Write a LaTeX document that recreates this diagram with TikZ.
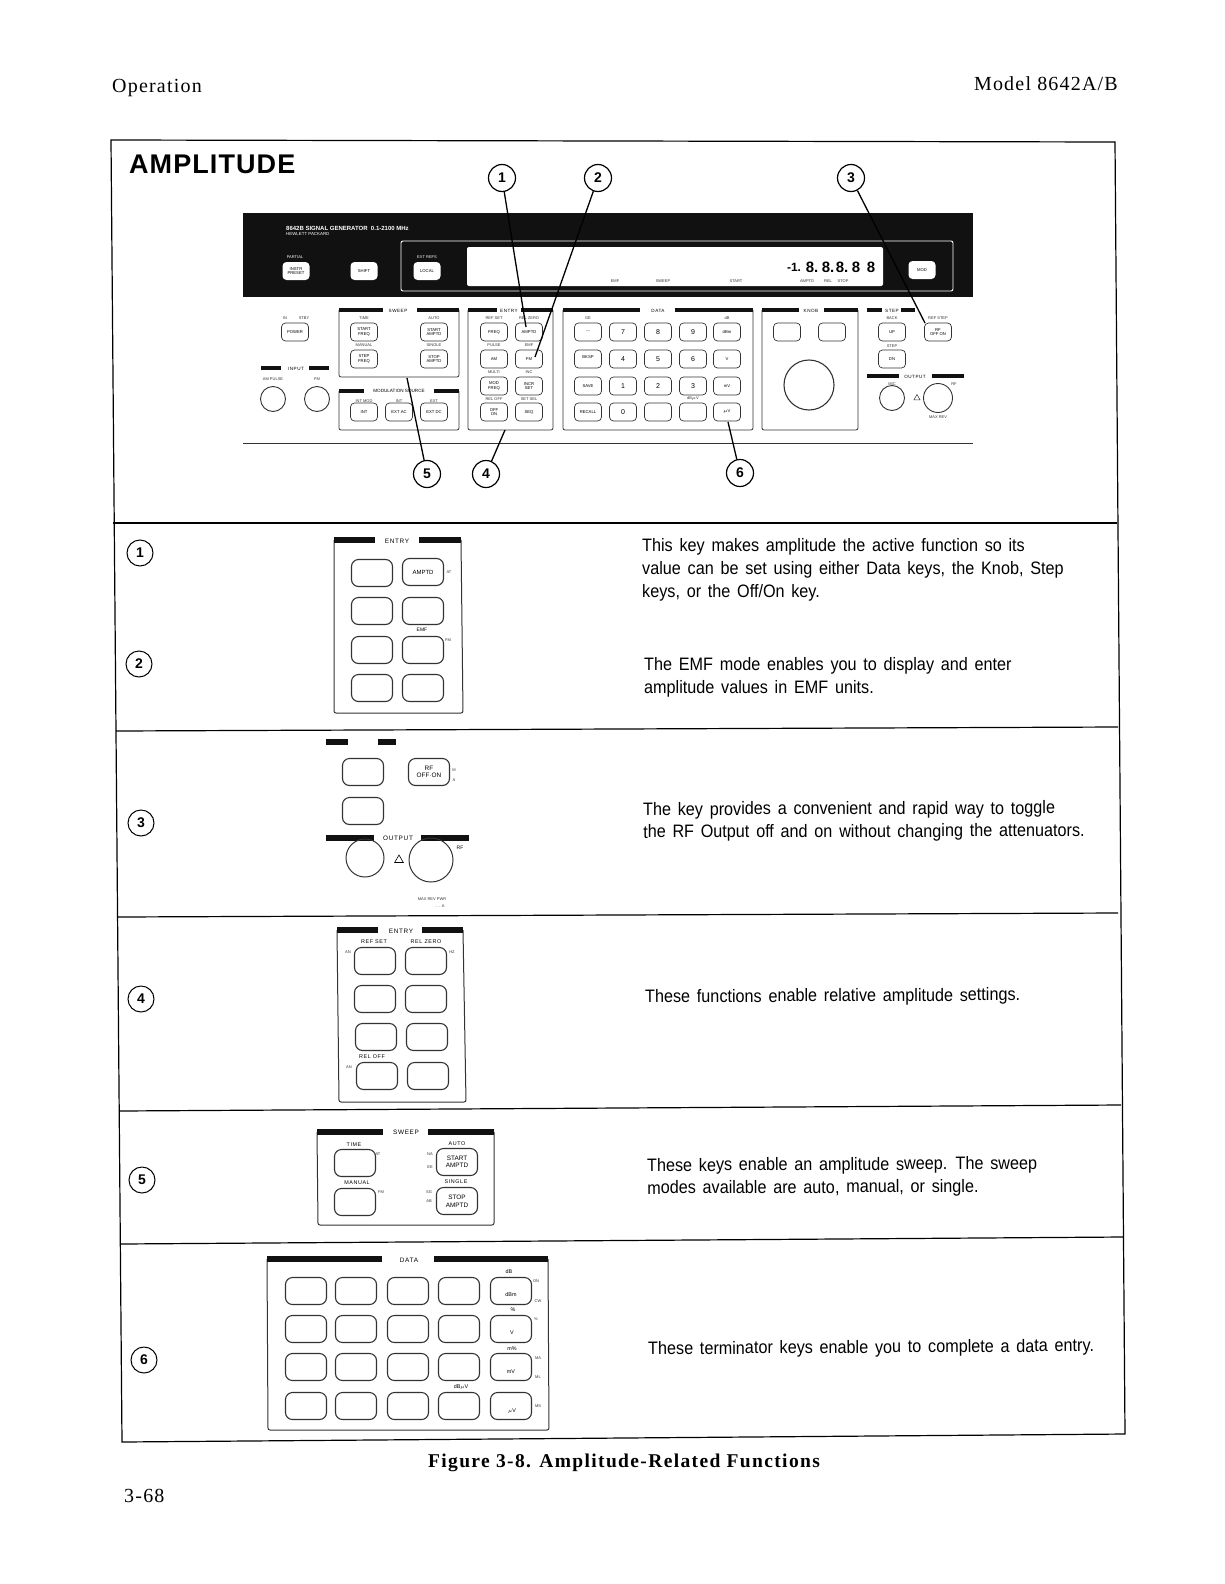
\documentclass[tikz,border=0pt]{standalone}
\usepackage{fontspec}
\usetikzlibrary{shapes.geometric}
\newfontfamily\bodyfont{Liberation Sans}[FakeStretch=0.9,WordSpace=1.5]
\newfontfamily\headfont{Liberation Serif}[LetterSpace=6]
\newfontfamily\captionfont{Liberation Serif}[LetterSpace=7]
\newfontfamily\titlefont{Liberation Sans}[LetterSpace=4]
\newfontfamily\tabfont{Liberation Sans}[LetterSpace=11]
\newfontfamily\panelfont{Liberation Sans}
\definecolor{panelblack}{HTML}{111111}
\definecolor{printgray}{HTML}{333333}
\tikzset{
  panelline/.style={draw=printgray,line width=0.8pt,rounded corners=2pt},
  tabbar/.style={draw=panelblack,line width=4pt},
  bigtab/.style={draw=panelblack,line width=5.5pt},
  padkey/.style={draw=printgray,line width=1.1pt,rounded corners=7pt,minimum width=41pt,minimum height=27pt,inner sep=0pt,align=center,font=\panelfont\fontsize{6}{7}\selectfont},
  frontkey/.style={draw=printgray,line width=0.7pt,rounded corners=4pt,minimum width=27pt,minimum height=18pt,inner sep=0pt,align=center,font=\panelfont\fontsize{4.2}{4.6}\selectfont,fill=white},
  whitekey/.style={frontkey,draw=none,text=black,fill=white},
  calloutnum/.style={draw=black,fill=white,circle,line width=1.2pt,minimum size=27pt,inner sep=0pt,font=\panelfont\bfseries\fontsize{14}{14}\selectfont},
  rownum/.style={calloutnum,line width=1pt,minimum size=26pt},
  calloutline/.style={draw=black,line width=1.3pt},
  minitext/.style={inner sep=0pt,text=printgray,font=\panelfont\fontsize{4}{4.5}\selectfont},
  tabtext/.style={inner sep=0pt,font=\tabfont\fontsize{6.4}{7}\selectfont},
  fronttab/.style={inner sep=0pt,font=\tabfont\fontsize{4.6}{5}\selectfont},
  keyhead/.style={inner sep=0pt,font=\tabfont\fontsize{5.4}{6}\selectfont},
  dialring/.style={draw=printgray,circle,line width=0.9pt,inner sep=0pt},
  bodytext/.style={inner sep=0pt,anchor=west,align=left,font=\bodyfont\fontsize{18}{22.7}\selectfont},
}
\begin{document}
\begin{tikzpicture}[x=1pt,y=-1pt]
\useasboundingbox (0,0) rectangle (1224,1584);
\node[anchor=west,inner sep=0pt,font=\headfont\fontsize{20}{22}\selectfont] (pagesection) at (112,88) {Operation};
\node[anchor=east,inner sep=0pt,font=\headfont\fontsize{20}{22}\selectfont] (pagemodel) at (1118,84) {Model 8642A/B};
\node[anchor=west,inner sep=0pt,font=\headfont\fontsize{20}{22}\selectfont] (pagenum) at (124,1496) {3-68};
\node[inner sep=0pt,font=\captionfont\bfseries\fontsize{19.5}{22}\selectfont] (figcaption) at (624,1463) {Figure 3-8. Amplitude-Related Functions};
\draw[black,line width=1.2pt] (111,140)--(1115,142)--(1125,1434)--(122,1442)--cycle;
\draw[black,line width=1.2pt] (113,523)--(1117,523);
\draw[black,line width=1.2pt] (116,731)--(1118,727);
\draw[black,line width=1.2pt] (118,917)--(1118,913);
\draw[black,line width=1.2pt] (119,1111)--(1121,1105);
\draw[black,line width=1.2pt] (121,1244)--(1123,1237);
\node[anchor=west,inner sep=0pt,font=\titlefont\bfseries\fontsize{27}{28}\selectfont] (amptitle) at (129,164) {AMPLITUDE};

\fill[panelblack] (243,213) rectangle (973,297);
\draw[panelline,draw=white,line width=0.9pt] (401,241) rectangle (953,291);
\fill[white,rounded corners=2pt] (467,247) rectangle (883,286);
\draw[printgray,line width=1pt] (243,443)--(973,443);
\node[anchor=west,inner sep=0pt,text=white,font=\panelfont\bfseries\fontsize{6}{7}\selectfont] (gentitle) at (286,228) {8642B SIGNAL GENERATOR\ \ 0.1-2100 MHz};
\node[anchor=west,inner sep=0pt,text=white,font=\panelfont\fontsize{4.4}{5}\selectfont] (genmaker) at (286,234) {HEWLETT PACKARD};
\node[inner sep=0pt,text=white,font=\panelfont\fontsize{4}{5}\selectfont] (partiallabel) at (295,257) {PARTIAL};
\node[inner sep=0pt,text=white,font=\panelfont\fontsize{4}{5}\selectfont] (extlabel) at (427,257) {EXT REFS};
\node[whitekey] (presetkey) at (296,271) {INSTR\\PRESET};
\node[whitekey] (shiftkey) at (364,271) {SHIFT};
\node[whitekey] (localkey) at (427,271) {LOCAL};
\node[whitekey] (modkey) at (922,270) {MOD};
\foreach \dx/\dtext [count=\i] in {812/8.,828/8.,842/8.,856/8,871/8}
  \node[inner sep=0pt,font=\panelfont\bfseries\fontsize{15}{15}\selectfont] (digit\i) at (\dx,267) {\dtext};
\node[inner sep=0pt,font=\panelfont\bfseries\fontsize{12}{12}\selectfont] (signdigit) at (794,267) {-1.};
\foreach \lx/\ltext [count=\i] in {615/EMF,663/SWEEP,736/START,807/AMPTD,828/REL,843/STOP}
  \node[minitext] (displaylabel\i) at (\lx,281) {\ltext};

\draw[panelline] (339,310)--(339,377)--(459,377)--(459,310);
\draw[tabbar] (339,310)--(383,310);
\draw[tabbar] (417,310)--(459,310);
\node[fronttab] (sweeptab) at (398,311) {SWEEP};
\draw[panelline] (339,391)--(339,430)--(459,430)--(459,391);
\draw[tabbar] (339,391)--(364,391);
\draw[tabbar] (434,391)--(459,391);
\node[fronttab,font=\panelfont\fontsize{4.6}{5}\selectfont] (modtab) at (399,391) {MODULATION SOURCE};
\draw[panelline] (468,310)--(468,430)--(553,430)--(553,310);
\draw[tabbar] (468,310)--(497,310);
\draw[tabbar] (521,310)--(553,310);
\node[fronttab] (entrytab) at (509,311) {ENTRY};
\draw[panelline] (563,310)--(563,430)--(753,430)--(753,310);
\draw[tabbar] (563,310)--(640,310);
\draw[tabbar] (675,310)--(753,310);
\node[fronttab] (datatab) at (658,311) {DATA};
\draw[panelline] (762,310)--(762,430)--(858,430)--(858,310);
\draw[tabbar] (762,310)--(799,310);
\draw[tabbar] (824,310)--(858,310);
\node[fronttab] (knobtab) at (811,311) {KNOB};
\draw[tabbar] (867,310)--(882,310);
\draw[tabbar] (901,310)--(915,310);
\node[fronttab] (steptab) at (892,311) {STEP};
\draw[tabbar] (867,376)--(899,376);
\draw[tabbar] (932,376)--(964,376);
\node[fronttab] (outputtab) at (915,377) {OUTPUT};
\draw[tabbar] (261,368)--(281,368);
\draw[tabbar] (309,368)--(329,368);
\node[fronttab] (inputtab) at (296,369) {INPUT};

\node[frontkey] (powerkey) at (295,332) {POWER};
\foreach \kx/\ky/\ktext [count=\i] in {364/332/{START\\FREQ},434/332/{START\\AMPTD},364/359/{STEP\\FREQ},434/359/{STOP\\AMPTD},364/412/INT,399/412/EXT AC,434/412/EXT DC,494/332/FREQ,494/359/AM,494/386/{MOD\\FREQ},494/412/{OFF\\ON},529/359/FM,529/386/{INCR\\SET},529/412/SEQ,588/332/---,588/359/{BKSP\\},588/386/SAVE,588/412/RECALL,787/332/,832/332/,892/332/UP,892/359/DN,938/332/{RF\\OFF ON}}
  \node[frontkey] (panelkey\i) at (\kx,\ky) {\ktext};
\node[frontkey] (amptdkey) at (529,332) {AMPTD};
\foreach \kx/\ky/\ktext [count=\i] in {623/332/7,658/332/8,693/332/9,623/359/4,658/359/5,693/359/6,623/386/1,658/386/2,693/386/3,623/412/0,658/412/,693/412/}
  \node[frontkey,font=\panelfont\fontsize{7}{8}\selectfont] (digitkey\i) at (\kx,\ky) {\ktext};
\foreach \ky/\ktext [count=\i] in {332/dBm,359/V,386/mV,412/$\mu$V}
  \node[frontkey] (unitkey\i) at (727,\ky) {\ktext};
\foreach \lx/\ly/\ltext [count=\i] in {364/318/TIME,434/318/AUTO,364/345/MANUAL,434/345/SINGLE,364/401/INT MOD,399/401/INT,434/401/EXT,494/318/REF SET,529/318/REL ZERO,494/345/PULSE,529/345/EMF,494/372/MULTI,529/372/INC,494/399/REL OFF,529/399/SET SEL,285/318/IN,304/318/STBY,273/379/AM PULSE,317/379/FM,588/318/GE,727/318/dB,693/399/dB$\mu$V,892/318/BACK,892/346/STEP,938/318/REF STEP,892/384/MIC,954/384/RF,938/417/MAX REV}
  \node[minitext] (frontlabel\i) at (\lx,\ly) {\ltext};
\node[dialring,minimum size=25pt] (amport) at (273,399) {};
\node[dialring,minimum size=25pt] (fmport) at (317,399) {};
\node[dialring,line width=1.1pt,minimum size=50pt] (knobdial) at (809,385) {};
\node[dialring,minimum size=25pt] (micport) at (892,398) {};
\node[dialring,minimum size=29pt] (rfport) at (938,398) {};
\node[regular polygon,regular polygon sides=3,draw=printgray,line width=0.5pt,inner sep=0pt,minimum size=7pt] (rfwarn) at (917,398) {};

\coordinate (amptdtip) at (526,327);
\coordinate (emftip) at (535,357);
\coordinate (rftip) at (925,323);
\coordinate (sweeptip) at (407,378);
\coordinate (entrytip) at (505,430);
\coordinate (datatip) at (728,422);
\node[calloutnum] (numone) at (502,178) {1};
\node[calloutnum] (numtwo) at (598,178) {2};
\node[calloutnum] (numthree) at (851,178) {3};
\node[calloutnum] (numfive) at (427,474) {5};
\node[calloutnum] (numfour) at (486,474) {4};
\node[calloutnum] (numsix) at (740,473) {6};
\draw[calloutline] (numone)--(amptdtip);
\draw[calloutline] (numtwo)--(emftip);
\draw[calloutline] (numthree)--(rftip);
\draw[calloutline] (numfive)--(sweeptip);
\draw[calloutline] (numfour)--(entrytip);
\draw[calloutline] (numsix)--(datatip);

\node[rownum] (rowone) at (140,553) {1};
\node[rownum] (rowtwo) at (139,664) {2};
\node[rownum] (rowthree) at (141,823) {3};
\node[rownum] (rowfour) at (141,999) {4};
\node[rownum] (rowfive) at (142,1180) {5};
\node[rownum] (rowsix) at (144,1360) {6};

\draw[panelline,line width=1pt] (334,540)--(334,713)--(463,713)--(461,540);
\draw[bigtab] (334,540)--(375,540);
\draw[bigtab] (419,540)--(461,540);
\node[tabtext] (entrytabone) at (397,541) {ENTRY};
\foreach \kx/\ky [count=\i] in {372/573,372/611,423/611,372/650,423/650,372/688,423/688}
  \node[padkey] (emfkey\i) at (\kx,\ky) {};
\node[padkey] (amptdbig) at (423,572) {AMPTD};
\node[minitext] (atlabel) at (449,572) {AT};
\node[keyhead,font=\panelfont\fontsize{5}{6}\selectfont] (emflabel) at (422,630) {EMF};
\node[minitext] (fmlabel) at (448,640) {FM};

\draw[bigtab] (326,742)--(348,742);
\draw[bigtab] (378,742)--(396,742);
\node[padkey] (stepkeya) at (363,772) {};
\node[padkey] (stepkeyb) at (363,811) {};
\node[padkey,font=\panelfont\fontsize{6.4}{7.5}\selectfont] (rfkey) at (429,772) {RF\\OFF$\cdot$ON};
\node[minitext] (rfside) at (454,770) {M};
\node[minitext] (rfsideb) at (454,780) {A};
\draw[bigtab] (326,838)--(374,838);
\draw[bigtab] (421,838)--(469,838);
\node[tabtext] (outputtabthree) at (398,838) {OUTPUT};
\node[dialring,line width=1pt,minimum size=38pt] (micjack) at (365,858) {};
\node[dialring,line width=1pt,minimum size=44pt] (rfjack) at (431,860) {};
\node[regular polygon,regular polygon sides=3,draw=black,line width=0.6pt,inner sep=0pt,minimum size=10pt] (warnmark) at (399,860) {};
\node[keyhead,font=\panelfont\fontsize{5}{6}\selectfont] (rflabel) at (460,848) {RF};
\node[minitext] (maxlabel) at (432,899) {MAX REV PWR};
\node[minitext] (maxlabelb) at (440,906) {.. . A};

\draw[panelline,line width=1pt] (337,930)--(339,1102)--(466,1102)--(463,930);
\draw[bigtab] (337,930)--(378,930);
\draw[bigtab] (422,930)--(463,930);
\node[tabtext] (entrytabfour) at (401,931) {ENTRY};
\foreach \kx/\ky [count=\i] in {375/961,426/961,375/999,426/999,376/1037,427/1037,377/1076,428/1076}
  \node[padkey] (relkey\i) at (\kx,\ky) {};
\node[keyhead] (refsetlabel) at (374,942) {REF SET};
\node[keyhead] (relzerolabel) at (426,942) {REL ZERO};
\node[keyhead] (relofflabel) at (372,1057) {REL OFF};
\node[minitext] (relsidea) at (348,952) {AN};
\node[minitext] (relsideb) at (452,952) {HZ};
\node[minitext] (relsidec) at (349,1067) {AN};

\draw[panelline,line width=1pt] (317,1132)--(318,1225)--(494,1225)--(494,1132);
\draw[bigtab] (317,1132)--(383,1132);
\draw[bigtab] (428,1132)--(494,1132);
\node[tabtext] (sweeptabfive) at (406,1132) {SWEEP};
\node[padkey] (timekey) at (355,1163) {};
\node[padkey] (manualkey) at (355,1202) {};
\node[padkey,font=\panelfont\fontsize{6.4}{7.5}\selectfont] (startkey) at (457,1162) {START\\AMPTD};
\node[padkey,font=\panelfont\fontsize{6.4}{7.5}\selectfont] (stopkey) at (457,1201) {STOP\\AMPTD};
\foreach \lx/\ly/\ltext [count=\i] in {354/1145/TIME,357/1183/MANUAL,457/1144/AUTO,456/1182/SINGLE}
  \node[keyhead] (sweeplabel\i) at (\lx,\ly) {\ltext};
\foreach \lx/\ly/\ltext [count=\i] in {378/1154/AT,381/1192/FM,430/1154/NA,430/1167/EE,429/1192/SG,429/1201/AB}
  \node[minitext] (sweepside\i) at (\lx,\ly) {\ltext};

\draw[panelline,line width=1pt] (267,1259)--(268,1430)--(549,1430)--(548,1259);
\draw[bigtab] (267,1259)--(382,1259);
\draw[bigtab] (434,1259)--(548,1259);
\node[tabtext] (datatabsix) at (409,1260) {DATA};
\foreach \ky [count=\r] in {1291,1329,1367,1406}
  \foreach \kx [count=\c] in {306,356,408,459}
    \node[padkey] (blankkey\r\c) at (\kx,\ky) {};
\node[padkey] (dbmkey) at (511,1291) {};
\node[padkey] (voltkey) at (511,1329) {};
\node[padkey] (mvkey) at (511,1367) {};
\node[padkey] (uvkey) at (511,1406) {};
\foreach \lx/\ly/\ltext [count=\i] in {511/1295/dBm,512/1333/V,511/1372/mV,512/1411/$\mu$V,509/1272/dB,513/1310/\%,512/1349/m\%,461/1387/dB$\mu$V}
  \node[keyhead,font=\panelfont\fontsize{5.4}{6}\selectfont] (unitlabel\i) at (\lx,\ly) {\ltext};
\foreach \lx/\ly/\ltext [count=\i] in {536/1281/ON,538/1301/CW,536/1319/\%,536/1339/.,538/1358/MA,538/1377/ML,538/1406/MS}
  \node[minitext] (unitside\i) at (\lx,\ly) {\ltext};

\node[bodytext] (textone) at (642,570) {This key makes amplitude the active function so its\\value can be set using either Data keys, the Knob, Step\\keys, or the Off/On key.};
\node[bodytext] (texttwo) at (644,677) {The EMF mode enables you to display and enter\\amplitude values in EMF units.};
\node[bodytext,rotate=0.2] (textthree) at (643,822) {The key provides a convenient and rapid way to toggle\\the RF Output off and on without changing the attenuators.};
\node[bodytext,rotate=0.3] (textfour) at (645,998) {These functions enable relative amplitude settings.};
\node[bodytext,rotate=0.3] (textfive) at (647,1178) {These keys enable an amplitude sweep. The sweep\\modes available are auto, manual, or single.};
\node[bodytext,rotate=0.4] (textsix) at (648,1350) {These terminator keys enable you to complete a data entry.};
\end{tikzpicture}
\end{document}
